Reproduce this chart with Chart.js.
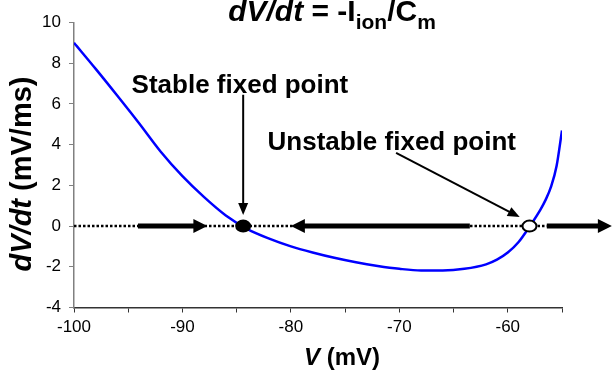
<!DOCTYPE html>
<html>
<head>
<meta charset="utf-8">
<script src="https://cdn.jsdelivr.net/npm/chart.js@4.4.1/dist/chart.umd.min.js"></script>
<style>
  html, body { margin: 0; padding: 0; background: #fff; }
</style>
</head>
<body>
<canvas id="chart" width="612" height="373"></canvas>
<script>
// membrane potential (mV) and dV/dt (mV/ms)
const voltage = [-100, -98, -96, -94, -92, -90, -88, -86, -84, -82, -80, -78, -76, -74, -72, -70,
  -68, -66, -64, -62, -61, -60, -59, -58, -57, -56.5, -56, -55.5, -55];
const dvdt = [9.0, 7.72, 6.4, 5.05, 3.65, 2.45, 1.42, 0.52, -0.15, -0.62, -1.0, -1.3, -1.56, -1.78, -1.96, -2.1,
  -2.18, -2.18, -2.1, -1.88, -1.65, -1.3, -0.78, -0.03, 0.8, 1.3, 1.95, 2.95, 4.7];

const xTickValues = [-100, -95, -90, -85, -80, -75, -70, -65, -60, -55];
const xTickLabels = ['-100', '', '-90', '', '-80', '', '-70', '', '-60', ''];
const yTickValues = [-4, -2, 0, 2, 4, 6, 8, 10];

// fixed points on the V axis
const fixedPointV = [-84.4, -58.0];
const fixedPointStable = [true, false];

// flow arrows along dV/dt = 0: [from V, to V]
const flowArrows = [[-94.1, -87.7], [-63.5, -80.0], [-56.4, -50.4]];
const zeroLineV = [-100, -56.4];

// annotations: text, text anchor (V, dV/dt), pointer from -> to
const noteText = ['Stable fixed point', 'Unstable fixed point'];
const noteAt = [[-84.7, 6.55], [-70.7, 3.73]];
const notePointer = [[[-84.4, 6.45], [-84.4, 0.55]], [[-70.3, 3.6], [-58.9, 0.44]]];

const FONT = '"Liberation Sans", Arial, sans-serif';

function drawArrow(ctx, x1, y1, x2, y2, width, headLen, headHalf) {
  const ang = Math.atan2(y2 - y1, x2 - x1);
  const bx = x2 - headLen * Math.cos(ang);
  const by = y2 - headLen * Math.sin(ang);
  ctx.beginPath();
  ctx.moveTo(x1, y1);
  ctx.lineTo(bx + Math.cos(ang), by + Math.sin(ang));
  ctx.lineWidth = width;
  ctx.stroke();
  ctx.beginPath();
  ctx.moveTo(x2, y2);
  ctx.lineTo(bx + headHalf * Math.sin(ang), by - headHalf * Math.cos(ang));
  ctx.lineTo(bx - headHalf * Math.sin(ang), by + headHalf * Math.cos(ang));
  ctx.closePath();
  ctx.fill();
}

// text made of pieces in different fonts (italics, subscripts)
function drawRuns(ctx, runs, cx, baseline) {
  let total = 0;
  runs.forEach(r => {
    ctx.font = r.font;
    r.w = ctx.measureText(r.text).width;
    total += r.w;
  });
  let x = cx - total / 2;
  ctx.textAlign = 'left';
  ctx.textBaseline = 'alphabetic';
  runs.forEach(r => {
    ctx.font = r.font;
    ctx.fillText(r.text, x, baseline + (r.dy || 0));
    x += r.w;
  });
}

const overlay = {
  id: 'overlay',
  afterDraw(chart) {
    const ctx = chart.ctx;
    const xs = chart.scales.x, ys = chart.scales.y;
    const px = v => xs.getPixelForValue(v);
    const py = v => ys.getPixelForValue(v);
    const y0 = py(0);

    ctx.save();
    ctx.strokeStyle = '#000';
    ctx.fillStyle = '#000';

    // dotted zero line
    ctx.setLineDash([2.5, 2]);
    ctx.lineWidth = 2.5;
    ctx.beginPath();
    ctx.moveTo(px(zeroLineV[0]), y0);
    ctx.lineTo(px(zeroLineV[1]), y0);
    ctx.stroke();
    ctx.setLineDash([]);

    // flow arrows
    flowArrows.forEach(a => drawArrow(ctx, px(a[0]), y0, px(a[1]), y0, 5, 14, 7));

    // fixed points
    fixedPointV.forEach((v, i) => {
      ctx.beginPath();
      ctx.ellipse(px(v), y0, 7, 5.5, 0, 0, Math.PI * 2);
      ctx.fillStyle = fixedPointStable[i] ? '#000' : '#fff';
      ctx.fill();
      ctx.lineWidth = 2;
      ctx.stroke();
    });
    ctx.fillStyle = '#000';

    // annotations
    noteText.forEach((t, i) => {
      ctx.font = 'bold 26px ' + FONT;
      ctx.textAlign = 'center';
      ctx.textBaseline = 'alphabetic';
      ctx.fillText(t, px(noteAt[i][0]), py(noteAt[i][1]));
      const p = notePointer[i];
      drawArrow(ctx, px(p[0][0]), py(p[0][1]), px(p[1][0]), py(p[1][1]), 2, 12, 5);
    });

    // chart title
    drawRuns(ctx, [
      { text: 'dV/dt', font: 'italic bold 30px ' + FONT },
      { text: ' = -I', font: 'bold 30px ' + FONT },
      { text: 'ion', font: 'bold 21px ' + FONT, dy: 8 },
      { text: '/C', font: 'bold 30px ' + FONT },
      { text: 'm', font: 'bold 21px ' + FONT, dy: 8 }
    ], 332, 21);

    // x axis title
    drawRuns(ctx, [
      { text: 'V', font: 'italic bold 24px ' + FONT },
      { text: ' (mV)', font: 'bold 24px ' + FONT }
    ], 342, 365);

    // y axis title
    ctx.translate(31, 174);
    ctx.rotate(-Math.PI / 2);
    drawRuns(ctx, [
      { text: 'dV/dt', font: 'italic bold 29px ' + FONT },
      { text: ' (mV/ms)', font: 'bold 29px ' + FONT }
    ], 0, 0);
    ctx.restore();
  }
};

const points = voltage.map((v, i) => ({ x: v, y: dvdt[i] }));

new Chart(document.getElementById('chart'), {
  type: 'scatter',
  data: {
    datasets: [{
      data: points,
      showLine: true,
      borderColor: '#0000ff',
      borderWidth: 2.5,
      pointRadius: 0,
      cubicInterpolationMode: 'monotone'
    }]
  },
  options: {
    responsive: false,
    animation: false,
    devicePixelRatio: 1,
    layout: { padding: { top: 22.5, right: 50, left: 0, bottom: 0 } },
    plugins: {
      legend: { display: false },
      tooltip: { enabled: false }
    },
    scales: {
      x: {
        type: 'linear',
        min: -100,
        max: -55,
        afterBuildTicks: s => { s.ticks = xTickValues.map(v => ({ value: v })); },
        afterFit: s => { s.height = 65.5; s.paddingLeft = 0; s.paddingRight = 0; },
        grid: { drawOnChartArea: false, drawTicks: true, tickLength: 5, color: '#333' },
        border: { color: '#333', width: 1.5 },
        ticks: {
          autoSkip: false,
          maxRotation: 0,
          padding: 5,
          color: '#000',
          font: { family: FONT, size: 17 },
          callback: (val, i) => xTickLabels[i]
        }
      },
      y: {
        min: -4,
        max: 10,
        afterBuildTicks: s => { s.ticks = yTickValues.map(v => ({ value: v })); },
        afterFit: s => { s.width = 74; s.paddingTop = 0; s.paddingBottom = 0; },
        grid: { drawOnChartArea: false, drawTicks: true, tickLength: 5, color: '#808080' },
        border: { color: '#808080', width: 1.5 },
        ticks: {
          padding: 8,
          color: '#000',
          font: { family: FONT, size: 17 }
        }
      }
    }
  },
  plugins: [overlay]
});
</script>
</body>
</html>
